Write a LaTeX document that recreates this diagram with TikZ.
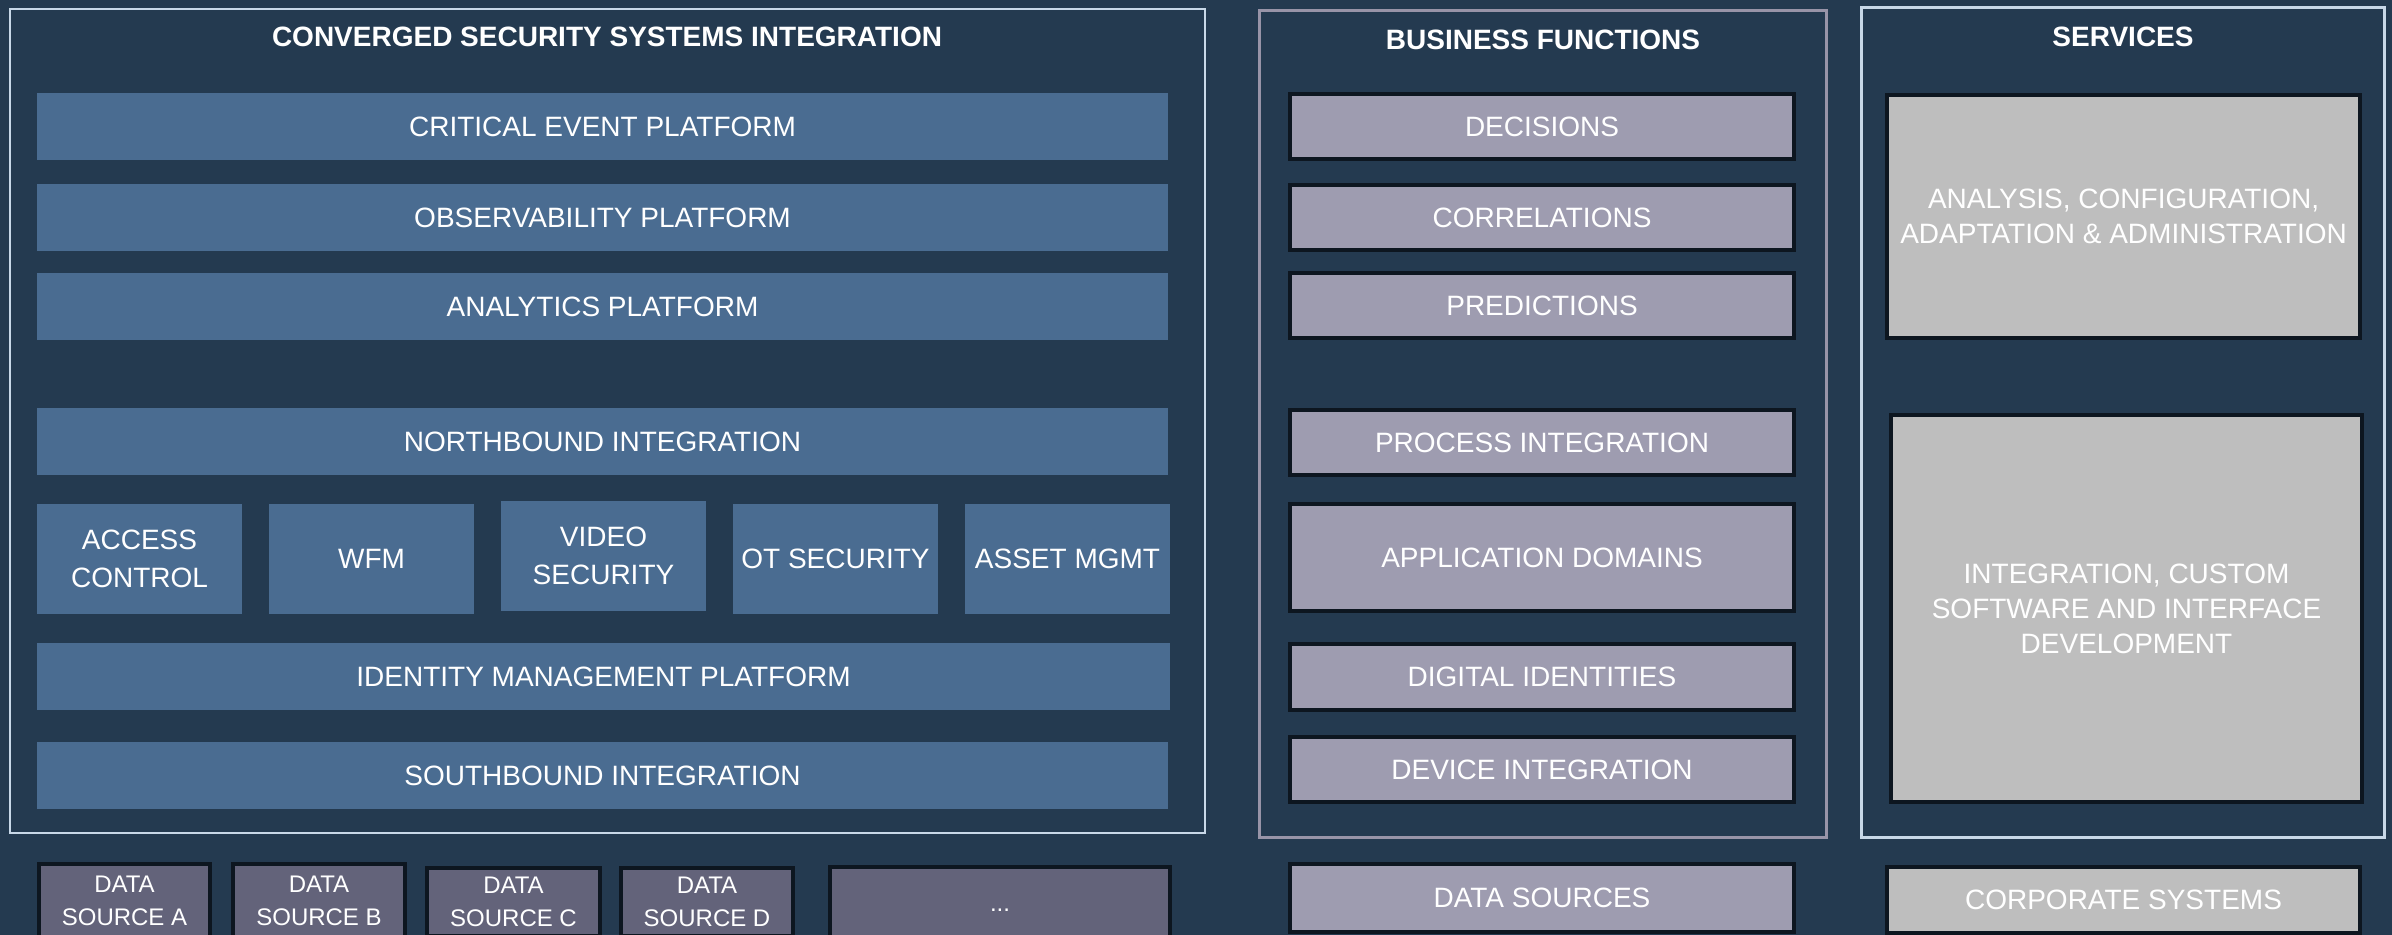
\documentclass[tikz,border=0pt]{standalone}
\usepackage{fontspec}
\setmainfont{Liberation Sans}
\usepackage{tikz}
\usetikzlibrary{fit}

\definecolor{bgnavy}{HTML}{243A50}
\definecolor{barblue}{HTML}{4A6C91}
\definecolor{funcgray}{HTML}{9E9CB0}
\definecolor{srvgray}{HTML}{BEBEBE}
\definecolor{srcgray}{HTML}{63637A}
\definecolor{edgedark}{HTML}{0D1620}
\definecolor{framelight}{HTML}{C8D8E8}
\definecolor{framegray}{HTML}{9894A8}

\begin{document}
\begin{tikzpicture}[x=0.5pt,y=-0.5pt,
        txt/.style={text=white,font=\fontsize{14}{17.5}\selectfont,align=center,inner sep=0pt},
        title/.style={text=white,font=\fontsize{14}{17}\selectfont\bfseries,inner sep=0pt},
        cell/.style n args={4}{txt,at={({(#1+#3)/2},{(#2+#4)/2})},
            minimum width={(#3-#1)*0.5pt},minimum height={(#4-#2)*0.5pt}},
        bar/.style n args={4}{cell={#1}{#2}{#3}{#4},fill=barblue},
        modbox/.style n args={4}{cell={#1}{#2}{#3}{#4},fill=barblue,font=\fontsize{14}{19}\selectfont},
        func/.style n args={4}{cell={#1}{#2}{#3}{#4},fill=funcgray,draw=edgedark,line width=2pt},
        srv/.style n args={4}{cell={#1}{#2}{#3}{#4},fill=srvgray,draw=edgedark,line width=2pt},
        src/.style n args={4}{cell={#1}{#2}{#3}{#4},fill=srcgray,draw=edgedark,line width=2pt,
            font=\fontsize{12}{16.5}\selectfont},
        frame/.style={draw=#1,inner sep=0pt}]
        \fill[bgnavy] (0,0) rectangle (2392,935);
        \useasboundingbox (0,0) rectangle (2392,935);

        \node[frame=framelight,line width=1pt,fit={(10,9) (1205,833)}] (conv) {};
        \node[title] (convtitle) at (607,37) {CONVERGED SECURITY SYSTEMS INTEGRATION};

        \node[bar={37}{93}{1168}{160}] (cep) {CRITICAL EVENT PLATFORM};
        \node[bar={37}{184}{1168}{251}] (obs) {OBSERVABILITY PLATFORM};
        \node[bar={37}{273}{1168}{340}] (ana) {ANALYTICS PLATFORM};
        \node[bar={37}{408}{1168}{475}] (nbi) {NORTHBOUND INTEGRATION};

        \node[modbox={37}{504}{242}{614}] (acc) {ACCESS\\CONTROL};
        \node[modbox={269}{504}{474}{614}] (wfm) {WFM};
        \node[modbox={501}{501}{706}{611}] (vid) {VIDEO\\SECURITY};
        \node[modbox={733}{504}{938}{614}] (ots) {OT SECURITY};
        \node[modbox={965}{504}{1170}{614}] (ast) {ASSET MGMT};

        \node[bar={37}{643}{1170}{710}] (idm) {IDENTITY MANAGEMENT PLATFORM};
        \node[bar={37}{742}{1168}{809}] (sbi) {SOUTHBOUND INTEGRATION};

        \node[frame=framegray,line width=1.5pt,fit={(1259,11) (1826,837)}] (biz) {};
        \node[title] (biztitle) at (1543,40) {BUSINESS FUNCTIONS};

        \node[func={1290}{94}{1794}{159}] (dec) {DECISIONS};
        \node[func={1290}{185}{1794}{250}] (cor) {CORRELATIONS};
        \node[func={1290}{273}{1794}{338}] (pre) {PREDICTIONS};
        \node[func={1290}{410}{1794}{475}] (pin) {PROCESS INTEGRATION};
        \node[func={1290}{504}{1794}{611}] (app) {APPLICATION DOMAINS};
        \node[func={1290}{644}{1794}{710}] (did) {DIGITAL IDENTITIES};
        \node[func={1290}{737}{1794}{802}] (dvi) {DEVICE INTEGRATION};

        \node[frame=framelight,line width=1.5pt,fit={(1861,8) (2384,837)}] (svc) {};
        \node[title] (svctitle) at (2123,37) {SERVICES};

        \node[srv={1887}{95}{2360}{338}] (adm) {ANALYSIS, CONFIGURATION,\\ADAPTATION \& ADMINISTRATION};
        \node[srv={1891}{415}{2362}{802}] (dev) {INTEGRATION, CUSTOM\\SOFTWARE AND INTERFACE\\DEVELOPMENT};

        \node[src={39}{864}{210}{938}] (srca) {DATA\\SOURCE A};
        \node[src={233}{864}{405}{938}] (srcb) {DATA\\SOURCE B};
        \node[src={427}{868}{600}{936}] (srcc) {DATA\\SOURCE C};
        \node[src={621}{868}{793}{936}] (srcd) {DATA\\SOURCE D};
        \node[src={830}{867}{1170}{953}] (srcmore) {...};

        \node[func={1290}{864}{1794}{932}] (dsrc) {DATA SOURCES};
        \node[srv={1887}{867}{2360}{933}] (corp) {CORPORATE SYSTEMS};
    \end{tikzpicture}
\end{document}
